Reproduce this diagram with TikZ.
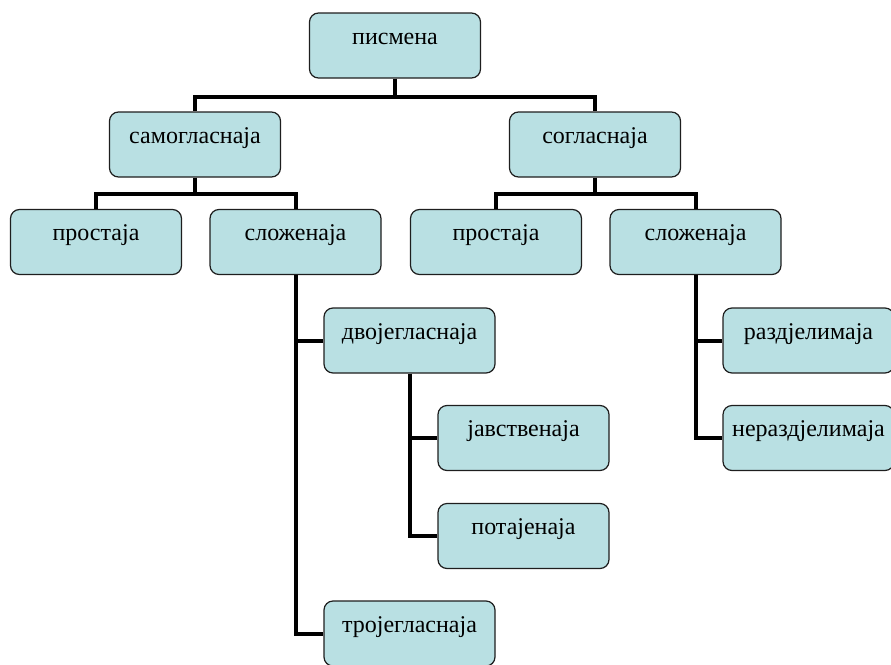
\documentclass[tikz,border=0pt]{standalone}
\usepackage{fontspec}
\setmainfont{Liberation Serif}
\definecolor{boxfill}{RGB}{185,224,227}
\definecolor{boxline}{RGB}{30,30,30}
\tikzset{
  x=1pt, y=1pt,
  tbox/.style={rectangle, rounded corners=9pt, draw=boxline, line width=1.2pt,
    fill=boxfill, minimum width=171pt, inner xsep=0pt, inner ysep=0pt,
    text height=31pt, text depth=34pt, font=\fontsize{24}{28}\selectfont},
  link/.style={line width=4pt, draw=black}
}
\begin{document}
\begin{tikzpicture}
\useasboundingbox (0,0) rectangle (891,-664);
% top level
\node[tbox] (pis)  at (395,-45.5)  {писмена};
% second level
\node[tbox] (sam)  at (195,-144.5) {самогласнаја};
\node[tbox] (sog)  at (595,-144.5) {согласнаја};
% third level
\node[tbox] (pro1) at (96,-242)    {простаја};
\node[tbox] (slo1) at (295.5,-242) {сложенаја};
\node[tbox] (pro2) at (496,-242)   {простаја};
\node[tbox] (slo2) at (695.5,-242) {сложенаја};
% compound vowels
\node[tbox] (dvo)  at (409.5,-340.5) {двојегласнаја};
\node[tbox] (jav)  at (523.5,-438)   {јавственаја};
\node[tbox] (pot)  at (523.5,-536)   {потајенаја};
\node[tbox] (tro)  at (409.5,-633.5) {тројегласнаја};
% compound consonants
\node[tbox] (raz)  at (808.5,-340.5) {раздјелимаја};
\node[tbox] (ner)  at (808.5,-438)   {нераздјелимаја};

% connectors
\draw[link] (pis.south) -- ++(0,-18) -| (sam.north);
\draw[link] (pis.south) -- ++(0,-18) -| (sog.north);
\draw[link] (sam.south) -- ++(0,-16) -| (pro1.north);
\draw[link] (sam.south) -- ++(0,-16) -| (slo1.north);
\draw[link] (sog.south) -- ++(0,-16) -| (pro2.north);
\draw[link] (sog.south) -- ++(0,-16) -| (slo2.north);
\draw[link] (slo1.south) |- (dvo.west);
\draw[link] (slo1.south) |- (tro.west);
\draw[link] (dvo.south) |- (jav.west);
\draw[link] (dvo.south) |- (pot.west);
\draw[link] (slo2.south) |- (raz.west);
\draw[link] (slo2.south) |- (ner.west);
\end{tikzpicture}
\end{document}
